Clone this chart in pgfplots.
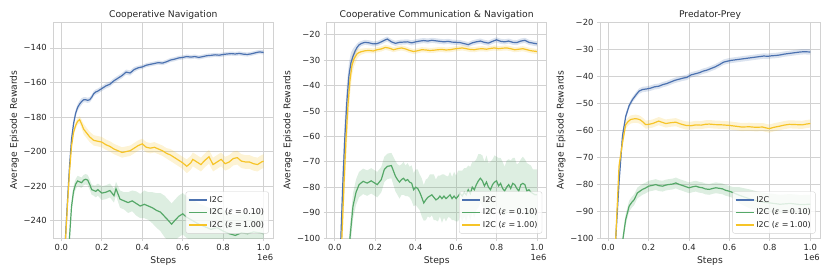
\documentclass[border=0pt]{standalone}
\usepackage{pgfplots}
\pgfplotsset{compat=1.18}
\usepackage{pgfplotstable}
\usepgfplotslibrary{fillbetween}
\usepackage{fontspec}
\setmainfont{DejaVu Sans}
\definecolor{sbblue}{RGB}{76,114,176}
\definecolor{sbgreen}{RGB}{85,168,104}
\definecolor{sbyellow}{RGB}{246,196,40}
\definecolor{txt}{RGB}{38,38,38}
\definecolor{gridc}{RGB}{210,210,210}

% ---------- Panel 1: Cooperative Navigation ----------
\pgfplotstableread{
x y d
0.015 -262 2
0.02 -250 2
0.03 -229 2
0.04 -209 2
0.05 -193 2
0.06 -184 2
0.07 -178 2
0.08 -174.5 2
0.09 -172.5 2
0.10 -171 2
0.11 -170 1.5
0.12 -170 1.5
0.13 -170.3 1.5
0.14 -170 1.5
0.15 -168.5 1.5
0.16 -166.5 1.5
0.17 -165.5 1.5
0.18 -165 1.5
0.20 -163.5 1.5
0.22 -162 1.5
0.24 -161 1.5
0.26 -159 1.5
0.28 -157.5 1.5
0.30 -156 1.5
0.32 -154 1.5
0.34 -154.5 1.5
0.36 -152.5 1.5
0.38 -151.5 1.2
0.40 -151 1.2
0.42 -150 1.2
0.44 -149.5 1.2
0.46 -149 1.2
0.48 -148.5 1.2
0.50 -148.8 1.2
0.52 -148 1.2
0.54 -147 1.2
0.56 -146.5 1.2
0.58 -145.8 1.2
0.60 -145.5 1.2
0.62 -145 1.2
0.64 -145.3 1.2
0.66 -145 1.2
0.68 -145.5 1.2
0.70 -145 1.2
0.72 -144.5 1.2
0.74 -144.3 1.2
0.76 -144 1.2
0.78 -144.2 1.2
0.80 -143.8 1.2
0.82 -143.5 1.2
0.84 -143.3 1.2
0.86 -143.5 1.2
0.88 -143.2 1.2
0.90 -143.6 1.2
0.92 -143.8 1.2
0.94 -143.4 1.2
0.96 -142.8 1.2
0.98 -142.3 1.2
1.00 -142.6 1.2
}\pA
\pgfplotstableread{
x y d
0.035 -262 3
0.04 -250 3
0.05 -232 3
0.06 -223 3
0.07 -219 3
0.08 -217 3
0.09 -217.5 3
0.10 -218 3
0.11 -216.5 3
0.12 -216 3
0.13 -216.5 3
0.14 -219 3
0.15 -222 3
0.16 -222.5 3
0.17 -223 3.5
0.18 -222 3.5
0.20 -224 4
0.22 -223.5 4
0.24 -222.5 4
0.26 -225.5 4
0.27 -221.5 4
0.29 -227.5 5
0.31 -228.5 5
0.33 -229.5 6
0.35 -228.5 6
0.37 -230 7
0.39 -231.5 7
0.41 -230.5 8
0.43 -231.5 8
0.45 -232.5 9
0.47 -234 10
0.49 -235 11
0.51 -237.5 12
0.53 -240 12
0.545 -242 12
0.56 -240 12
0.58 -237.5 12
0.60 -236 12
0.62 -238 12
0.65 -240 12
0.68 -242 12
0.71 -243.5 12
0.74 -245 12
0.77 -244 12
0.80 -246 12
0.83 -247.5 12
0.86 -248.5 12
0.89 -247 12
0.92 -247.5 12
0.95 -246.5 12
0.98 -247 12
1.00 -247.5 12
}\pB
\pgfplotstableread{
x y d
0.015 -262 2
0.02 -252 2
0.03 -231 2
0.04 -212 2
0.05 -197 2
0.06 -189 2
0.07 -185 2
0.08 -182.5 2
0.09 -181.5 2
0.10 -184 2.5
0.11 -187 3
0.12 -188.5 3
0.13 -190 3
0.14 -191.5 3
0.15 -192.5 3
0.16 -193.5 3
0.18 -194 3
0.20 -194.5 3
0.22 -196 3
0.24 -197 3
0.26 -198.5 3
0.28 -199.5 3
0.30 -200.5 3
0.32 -200 3
0.34 -199.5 3
0.36 -198 3
0.38 -196.5 3
0.40 -195.5 3
0.42 -197.5 3
0.44 -198 3
0.46 -197.5 3
0.48 -198.5 3
0.50 -199.5 3
0.52 -201 3
0.54 -202 3.5
0.56 -203.5 3.5
0.58 -205 3.5
0.60 -206.5 3.5
0.62 -208.5 4
0.64 -206.5 4
0.65 -204.5 4
0.67 -206 4
0.69 -207.5 4
0.71 -205 4
0.73 -203 4
0.75 -207.5 4
0.77 -206 4
0.79 -204.5 4
0.81 -207 4
0.83 -206 4
0.85 -204 4
0.87 -203.5 4
0.89 -205.5 4
0.91 -206 4
0.93 -206 4
0.95 -207 4
0.97 -207.5 4
0.99 -206 4
1.00 -205.5 4
}\pC

% ---------- Panel 2: Cooperative Communication & Navigation ----------
\pgfplotstableread{
x y d
0.025 -110 5
0.03 -100 6
0.04 -78 8
0.05 -60 8
0.06 -46 7
0.07 -36 5
0.08 -31 4
0.09 -28.5 3
0.10 -26.5 2
0.11 -25 1.5
0.12 -24 1.2
0.13 -23.5 1
0.14 -23.2 1
0.15 -23 1
0.17 -23.2 1
0.19 -23.6 1
0.21 -23.5 1
0.23 -22.8 1
0.25 -22 1
0.26 -21.7 1
0.28 -22.8 1
0.30 -23.4 1
0.32 -23 1
0.34 -22.9 1
0.36 -22.8 1
0.38 -23.2 1
0.40 -22.8 1
0.42 -22.5 1
0.44 -22.3 1
0.46 -22.5 1
0.48 -22.2 1
0.50 -22.4 1
0.52 -22.6 1
0.54 -22.8 1
0.56 -22.6 1
0.58 -22.9 1
0.60 -23 1
0.62 -23.1 1
0.64 -23.5 1
0.66 -23.9 1
0.68 -23.2 1
0.70 -22.8 1
0.72 -22.5 1
0.74 -23 1
0.76 -23.3 1
0.78 -22.6 1
0.80 -22 1
0.82 -22.6 1
0.84 -22.8 1
0.86 -22.5 1
0.88 -23 1
0.90 -23.1 1
0.92 -22.5 1
0.94 -22.2 1
0.96 -23 1
0.98 -23.3 1
1.00 -23.6 1
}\qA
\pgfplotstableread{
x y d
0.07 -105 5
0.075 -100 5
0.09 -87.5 5
0.105 -82 5
0.12 -79 5
0.14 -77.7 5
0.16 -78.4 5
0.18 -77.5 5
0.20 -78.5 5
0.21 -79 5
0.23 -77 5
0.245 -73 5
0.26 -71.8 5
0.28 -71.5 5
0.30 -75.7 6
0.31 -77 6
0.32 -78 6.5
0.33 -77 6
0.34 -76.5 6.5
0.35 -77.5 6
0.36 -77 6.5
0.37 -78 6
0.38 -78.4 7
0.39 -81 6.5
0.40 -80 7
0.41 -80.5 7.5
0.42 -82 7
0.43 -84 7.5
0.44 -86.2 7
0.45 -85 8
0.46 -84 7.5
0.47 -83.5 8.5
0.48 -83 8
0.49 -84 9
0.50 -85 8
0.51 -84.5 9
0.52 -83.5 8
0.53 -84.5 9.5
0.54 -83.5 8.5
0.55 -84.5 9
0.56 -83.8 8
0.57 -83 9
0.58 -84.5 8.5
0.59 -83.5 9.5
0.60 -84.5 9
0.61 -83.5 10
0.62 -82.5 9
0.63 -83.5 10
0.64 -82 9.5
0.65 -83 10.5
0.66 -81 9.5
0.67 -82.5 10.5
0.68 -80 10
0.69 -81 11
0.70 -79 10
0.71 -77.5 10.5
0.72 -76.5 9.5
0.73 -77.5 10
0.74 -79.5 9.5
0.75 -78 10.5
0.76 -80 9.5
0.77 -81 11
0.78 -79 10
0.79 -78 10.5
0.80 -77.5 9.5
0.81 -79.5 11
0.82 -78.5 10
0.83 -80.5 10.5
0.84 -81.5 9.5
0.85 -80 10.5
0.86 -79 10
0.87 -80.5 11
0.88 -78.5 10
0.89 -79 10.5
0.90 -80.5 9.5
0.91 -81.5 11
0.92 -79 10
0.93 -78.5 10.5
0.94 -79 10
0.95 -81.5 11
0.96 -81 10
0.97 -82 10.5
0.98 -82.5 9.5
0.99 -83 10
1.00 -83 10
}\qB
\pgfplotstableread{
x y d
0.03 -110 6
0.035 -100 7
0.045 -80 9
0.055 -62 9
0.065 -48 8
0.075 -38 6
0.085 -32 4
0.095 -29.5 3
0.11 -27.5 2
0.12 -27 1.5
0.13 -26.7 1.2
0.15 -26.3 1
0.17 -26.2 1
0.19 -26.4 1
0.21 -25.9 1
0.23 -25.6 1
0.25 -25 1
0.27 -25.3 1
0.29 -25.9 1
0.31 -25.5 1
0.33 -25.2 1
0.35 -25.6 1
0.37 -26.2 1
0.39 -26.6 1
0.41 -26.3 1
0.43 -25.9 1
0.45 -26 1
0.47 -26.2 1
0.49 -26.1 1
0.51 -25.9 1
0.53 -25.8 1
0.55 -26 1
0.57 -25.9 1
0.59 -25.6 1
0.61 -25.4 1
0.63 -25.2 1
0.65 -25.5 1
0.67 -25.8 1
0.69 -25.9 1
0.71 -25.6 1
0.73 -25.5 1
0.75 -25.7 1
0.77 -25.4 1
0.79 -25.2 1
0.81 -25.5 1
0.83 -25.3 1
0.85 -25.2 1
0.87 -25.5 1
0.89 -25.9 1
0.91 -25.7 1
0.93 -25.5 1
0.95 -25.9 1
0.97 -26.3 1
1.00 -26.6 1
}\qC

% ---------- Panel 3: Predator-Prey ----------
\pgfplotstableread{
x y d
0.03 -110 2
0.038 -100 2
0.054 -79.6 2
0.071 -62.3 1.5
0.087 -55 1.2
0.104 -51 1
0.12 -48.8 1
0.14 -46.8 1
0.153 -45.6 1
0.17 -45 1
0.19 -44.8 1
0.21 -44.5 1
0.23 -44 1
0.25 -43.8 1
0.27 -43.2 1
0.29 -42.8 1
0.31 -42.2 1
0.33 -41.6 1
0.35 -41.2 1
0.37 -40.8 1
0.39 -40.5 1
0.41 -39.6 1
0.43 -39.2 1
0.45 -38.8 1
0.47 -38.2 1
0.49 -37.8 1
0.51 -37.2 1
0.53 -36.6 1
0.55 -35.8 1
0.57 -34.9 1
0.59 -34.5 1
0.61 -34.2 1
0.63 -34 1
0.65 -33.8 1
0.67 -33.6 1
0.69 -33.4 1
0.71 -33.2 1
0.73 -33 1
0.75 -32.8 1
0.77 -32.6 1
0.79 -32.7 1
0.81 -32.5 1
0.83 -32.4 1
0.85 -32.2 1
0.87 -31.9 1
0.89 -31.7 1
0.91 -31.5 1
0.93 -31.3 1
0.95 -31.1 1
0.97 -31 1
1.00 -31.1 1
}\rA
\pgfplotstableread{
x y d
0.07 -105 2
0.074 -100 2
0.087 -93.2 2
0.104 -88.2 2
0.117 -86.8 2
0.129 -85.8 2
0.145 -83.3 2
0.17 -82 2
0.185 -81.5 2
0.20 -80.8 2
0.22 -80.5 2
0.236 -80.2 2
0.25 -80.6 2
0.27 -80.8 2
0.285 -80.4 2
0.30 -80.2 2
0.32 -80 2
0.335 -79.6 2
0.35 -80.1 2
0.37 -80.6 2
0.385 -81 2
0.40 -81.4 2
0.42 -81 2
0.434 -80.8 2
0.45 -81.2 2
0.467 -81.4 2
0.48 -81.8 2
0.50 -82 2
0.52 -81.6 2
0.533 -81.4 2
0.55 -81.6 2
0.566 -81.8 2
0.58 -82.3 2
0.60 -82.7 2
0.615 -83.1 2
0.65 -84.2 3
0.70 -85.5 3.5
0.75 -86.5 3.5
0.80 -87 3.5
0.85 -87.5 3.5
0.90 -87.2 3.5
0.95 -87.6 3.5
1.00 -87.5 3.5
}\rB
\pgfplotstableread{
x y d
0.03 -110 2
0.038 -100 2
0.054 -73.4 2
0.071 -64.8 2
0.087 -58 1.5
0.10 -56.8 1.5
0.112 -56.1 1.5
0.125 -55.9 1.5
0.137 -55.8 1.5
0.15 -56 1.5
0.16 -56.3 1.5
0.175 -57.2 1.5
0.186 -58 1.5
0.20 -57.9 1.5
0.22 -57.6 1.5
0.25 -56.7 1.5
0.27 -57.2 1.5
0.285 -57.6 1.5
0.31 -57.3 1.5
0.335 -57.1 1.5
0.36 -57.8 1.5
0.385 -58.3 1.5
0.41 -58.4 1.5
0.434 -58.1 1.5
0.46 -58.2 1.5
0.48 -57.9 1.5
0.50 -57.8 1.5
0.53 -58 1.5
0.566 -58.1 1.5
0.60 -58.3 1.5
0.632 -58.6 1.5
0.66 -58.9 1.5
0.698 -58.8 1.5
0.73 -59 1.5
0.764 -58.9 1.5
0.78 -59.2 1.5
0.797 -59.5 1.5
0.82 -59 1.5
0.847 -58.6 1.5
0.87 -58.2 1.5
0.896 -57.9 1.5
0.93 -58 1.5
0.96 -58.1 1.5
0.98 -57.8 1.5
1.00 -57.6 1.5
}\rC

\newcommand{\series}[3]{%
  \addplot[draw=none, name path=#3u, forget plot] table[x=x, y expr=\thisrow{y}+\thisrow{d}]{#1};
  \addplot[draw=none, name path=#3l, forget plot] table[x=x, y expr=\thisrow{y}-\thisrow{d}]{#1};
  \addplot[fill=#2, fill opacity=0.2, draw=none, forget plot] fill between[of=#3u and #3l];
  \addplot[#2, line width=1.2pt] table[x=x, y=y]{#1};
}

\tikzset{offsetnode/.style={anchor=north east, font=\fontsize{8.4}{9}\selectfont, text=txt, inner sep=0pt, yshift=-16pt}}

\pgfplotsset{
  sbstyle/.style={
    scale only axis, anchor=south west, clip mode=individual,
    width=220pt, height=216pt,
    xmin=-0.04, xmax=1.048,
    axis line style={gridc, line width=0.8pt},
    grid=major, major grid style={gridc, line width=0.8pt},
    tick align=outside, major tick length=3pt,
    tick style={gridc, line width=0.8pt},
    xtick pos=bottom, ytick pos=left,
    xtick={0,0.2,0.4,0.6,0.8,1.0},
    xticklabels={0.0,0.2,0.4,0.6,0.8,1.0},
    ticklabel style={font=\fontsize{8.4}{9}\selectfont, text=txt},
    label style={font=\fontsize{9.2}{10}\selectfont, text=txt},
    title style={font=\fontsize{9.2}{10}\selectfont, text=txt, yshift=-7pt},
    xlabel={Steps}, ylabel={Average Episode Rewards},
    xlabel style={yshift=1pt},
    ylabel style={yshift=-2pt},
    legend cell align=left,
    legend style={at={(1,0)}, anchor=south east, xshift=-4.5pt, yshift=4.5pt,
      font=\fontsize{8}{9}\selectfont, text=txt,
      draw=gridc, fill=white, fill opacity=0.8, text opacity=1,
      rounded corners=2pt, inner sep=2.5pt, row sep=1pt},
    legend image code/.code={\draw[##1] (0pt,0pt) -- (18pt,0pt);},
  },
}

\begin{document}
\begin{tikzpicture}
\path (0,0) rectangle (830pt,277pt);

\begin{axis}[sbstyle, at={(53.3pt,39pt)},
  title={Cooperative Navigation},
  ymin=-250, ymax=-125,
  ytick={-240,-220,-200,-180,-160,-140},
  yticklabels={−240,−220,−200,−180,−160,−140}]
\series{\pA}{sbblue}{a1}
\series{\pB}{sbgreen}{a2}
\series{\pC}{sbyellow}{a3}
\legend{I2C, I2C (\textit{ε} =\,0.10), I2C (\textit{ε} =\,1.00)}
\node[offsetnode] at (rel axis cs:1,0) {1e6};
\end{axis}

\begin{axis}[sbstyle, at={(326.7pt,39pt)},
  title={Cooperative Communication \& Navigation},
  ymin=-100, ymax=-15,
  ytick={-100,-90,-80,-70,-60,-50,-40,-30,-20},
  yticklabels={−100,−90,−80,−70,−60,−50,−40,−30,−20}]
\series{\qA}{sbblue}{b1}
\series{\qB}{sbgreen}{b2}
\series{\qC}{sbyellow}{b3}
\legend{I2C, I2C (\textit{ε} =\,0.10), I2C (\textit{ε} =\,1.00)}
\node[offsetnode] at (rel axis cs:1,0) {1e6};
\end{axis}

\begin{axis}[sbstyle, at={(600pt,39pt)},
  title={Predator-Prey},
  ymin=-100, ymax=-20,
  ytick={-100,-90,-80,-70,-60,-50,-40,-30,-20},
  yticklabels={−100,−90,−80,−70,−60,−50,−40,−30,−20}]
\series{\rA}{sbblue}{c1}
\series{\rB}{sbgreen}{c2}
\series{\rC}{sbyellow}{c3}
\legend{I2C, I2C (\textit{ε} =\,0.10), I2C (\textit{ε} =\,1.00)}
\node[offsetnode] at (rel axis cs:1,0) {1e6};
\end{axis}
\end{tikzpicture}
\end{document}
